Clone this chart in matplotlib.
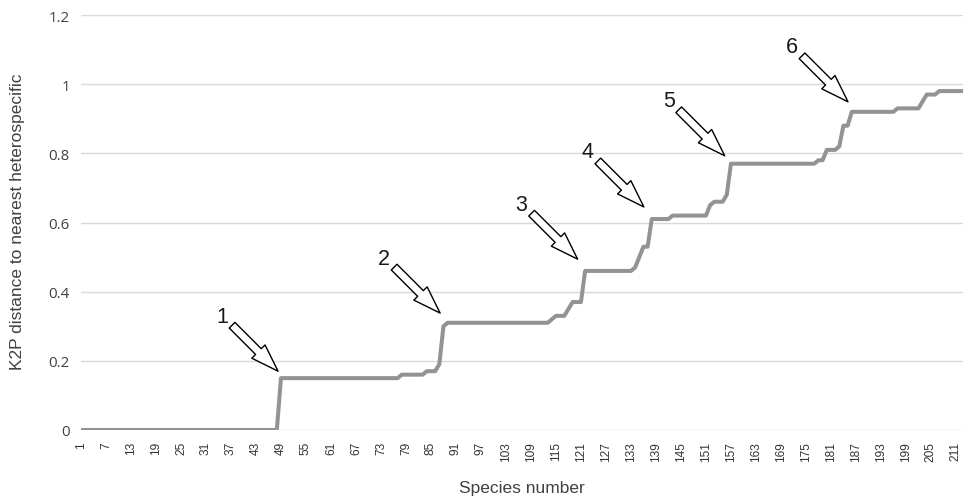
import numpy as np
import matplotlib.pyplot as plt

# step runs: first species of each run and its K2P value
run_start = [1, 49, 78, 84, 87, 88, 89, 114, 115, 118, 119, 122, 134, 135, 136,
             138, 143, 152, 153, 156, 157, 178, 180, 183, 184, 186, 197, 203,
             204, 207]
run_value = [0.00, 0.15, 0.16, 0.17, 0.19, 0.30, 0.31, 0.32, 0.33, 0.35, 0.37,
             0.46, 0.47, 0.50, 0.53, 0.61, 0.62, 0.65, 0.66, 0.68, 0.77, 0.78,
             0.81, 0.82, 0.88, 0.92, 0.93, 0.95, 0.97, 0.98]
n_species = 213

# arrow annotations: tip position (species, value) and label
arrow_tip_x = [48.3, 87.2, 120.2, 136.1, 155.5, 185.1]
arrow_tip_y = [0.17, 0.338, 0.494, 0.645, 0.793, 0.949]
arrow_labels = ['1', '2', '3', '4', '5', '6']

xtick_labels = [str(v) for v in range(1, 212, 6)]
ytick_vals = [0, 0.2, 0.4, 0.6, 0.8, 1.0, 1.2]
ytick_labels = ['0', '0.2', '0.4', '0.6', '0.8', '1', '1.2']

# --- expand runs to one value per species ---
run_len = np.diff(run_start + [n_species + 1])
species = np.arange(1, n_species + 1)
dist = np.repeat(run_value, run_len)

plt.rcParams['font.family'] = ['Liberation Sans', 'DejaVu Sans']

fig = plt.figure(figsize=(9.63, 5.02), dpi=100)
ax = fig.add_axes([81 / 963, 71 / 502, 882 / 963, 415 / 502])

for yv in ytick_vals:
    ax.axhline(yv, color='#d9d9d9', lw=1, zorder=0)

ax.plot(species, dist, color='#939393', lw=2.9, solid_joinstyle='round', zorder=3)

ax.set_xlim(1, 212.7)
ax.set_ylim(0, 1.2)
for s in ax.spines.values():
    s.set_visible(False)

ax.set_xticks(range(1, 212, 6))
ax.set_xticklabels(xtick_labels, rotation=90, fontsize=8.6, color='#333333')
ax.set_yticks(ytick_vals)
ax.set_yticklabels(ytick_labels, fontsize=10.8, color='#404040', family='Open Sans')
ax.tick_params(axis='x', length=0, pad=8)
ax.tick_params(axis='y', length=0, pad=8)

for tx, ty, lab in zip(arrow_tip_x, arrow_tip_y, arrow_labels):
    ax.annotate('', xy=(tx, ty), xytext=(-46, 46), textcoords='offset pixels',
                arrowprops=dict(arrowstyle='simple,head_length=2.0,head_width=1.35,tail_width=0.58',
                                fc='white', ec='black', lw=1.0, shrinkA=0, shrinkB=0,
                                mutation_scale=10),
                zorder=5)
    ax.annotate(lab, xy=(tx, ty), xytext=(-56, 55), textcoords='offset pixels',
                ha='center', va='center', fontsize=15.5, color='#1a1a1a', zorder=5)

fig.text(522 / 963, 1 - 489 / 502, 'Species number', ha='center', va='center',
         fontsize=12.5, color='#404040')
fig.text(18 / 963, 1 - 222 / 502, 'K2P distance to nearest heterospecific',
         ha='center', va='center', rotation=90, fontsize=12.5, color='#404040')

fig.savefig('out.png', dpi=100)
